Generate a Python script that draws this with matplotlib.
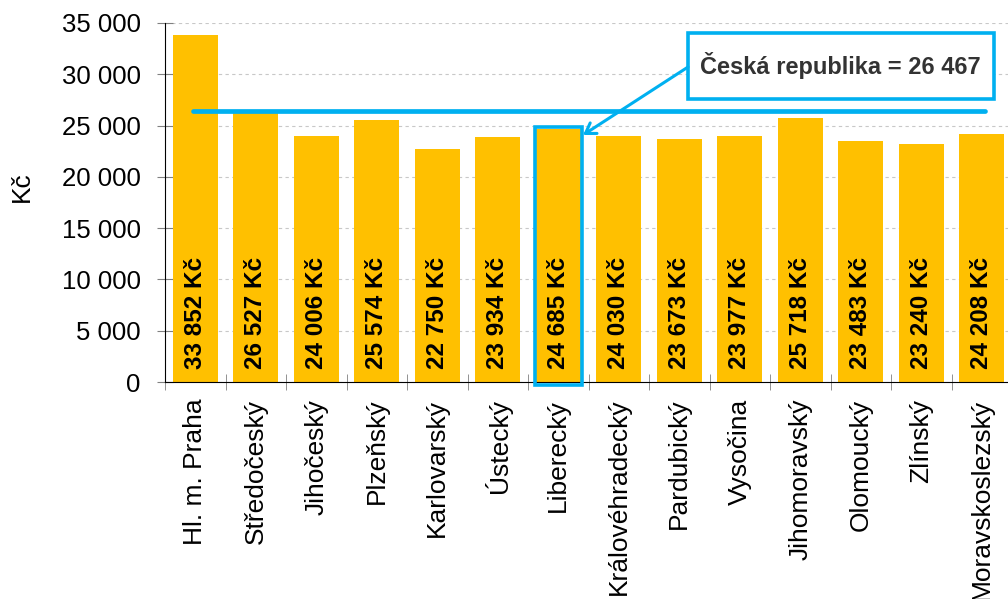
"""Average gross wage by region (kraj) with the Czech Republic average marked."""

import matplotlib

matplotlib.use("Agg")
import matplotlib.pyplot as plt
from matplotlib.patches import Rectangle
from matplotlib.ticker import FuncFormatter, FixedLocator

plt.rcParams["font.family"] = ["Liberation Sans", "DejaVu Sans"]

REGIONS = [
    "Hl. m. Praha", "Středočeský", "Jihočeský", "Plzeňský", "Karlovarský",
    "Ústecký", "Liberecký", "Královéhradecký", "Pardubický", "Vysočina",
    "Jihomoravský", "Olomoucký", "Zlínský", "Moravskoslezský",
]
WAGES = [33852, 26527, 24006, 25574, 22750, 23934, 24685,
         24030, 23673, 23977, 25718, 23483, 23240, 24208]
CR_AVERAGE = 26467
HIGHLIGHT = "Liberecký"

BAR_COLOR = "#FFC000"
CYAN = "#00B0F0"


def thousands(value, _pos):
    return f"{int(value):,}".replace(",", " ")


fig = plt.figure(figsize=(10.08, 5.99), dpi=100)
ax = fig.add_axes([165 / 1008, 217 / 599, 847 / 1008, 359 / 599])

x = list(range(len(REGIONS)))
ax.bar(x, WAGES, width=0.74, color=BAR_COLOR, zorder=2)
for xi, value in zip(x, WAGES):
    ax.text(xi, 1300, f"{thousands(value, None)} Kč", rotation=90, ha="center", va="bottom",
            fontsize=17.5, fontweight="bold", color="black", zorder=3)

ax.set_xlim(-0.5, len(REGIONS) - 0.5)
ax.set_ylim(0, 35000)
ax.set_yticks(range(0, 35001, 5000))
ax.yaxis.set_major_formatter(FuncFormatter(thousands))
ax.yaxis.grid(True, color="#C8C8C8", linestyle=(0, (3, 3)), linewidth=0.8, zorder=0)
ax.set_axisbelow(True)

ax.set_xticks(x)
ax.set_xticklabels(REGIONS, rotation=90, fontsize=19)
ax.xaxis.set_minor_locator(FixedLocator([i - 0.5 for i in range(len(REGIONS) + 1)]))
ax.tick_params(axis="x", which="major", length=0, pad=12)
ax.tick_params(axis="x", which="minor", direction="inout", length=11, color="#808080")
ax.tick_params(axis="y", direction="inout", length=11, color="#808080", labelsize=18.5, pad=12)
ax.set_ylabel("Kč", fontsize=19)
ax.yaxis.set_label_coords(-0.1547, 0.543)

for side in ("top", "right"):
    ax.spines[side].set_visible(False)
ax.spines["left"].set_color("black")
ax.spines["bottom"].set_color("black")

# Czech Republic average line
ax.plot([-0.04, 13.05], [CR_AVERAGE, CR_AVERAGE], color=CYAN, linewidth=3.4,
        solid_capstyle="round", zorder=4)

# highlighted region outline
hi = REGIONS.index(HIGHLIGHT)
ax.add_patch(Rectangle((hi - 0.39, -300), 0.78, WAGES[hi] + 480, fill=False,
                       edgecolor=CYAN, linewidth=2.6, zorder=5, clip_on=False))

# annotation box and arrow
ax.add_patch(Rectangle((8.145, 27591), 5.055, 6434, facecolor="white", edgecolor=CYAN,
                       linewidth=2.6, zorder=6, clip_on=False))
ax.text(10.67, 30808, f"Česká republika = {thousands(CR_AVERAGE, None)}", ha="center",
        va="center", fontsize=17, fontweight="bold", color="#333333", zorder=7)
ax.annotate("", xy=(6.41, 24080), xytext=(8.145, 30710),
            arrowprops=dict(arrowstyle="->,head_length=0.7,head_width=0.45", color=CYAN,
                            linewidth=2.2, shrinkA=0, shrinkB=0), zorder=6)

fig.savefig("out.png", dpi=100)
